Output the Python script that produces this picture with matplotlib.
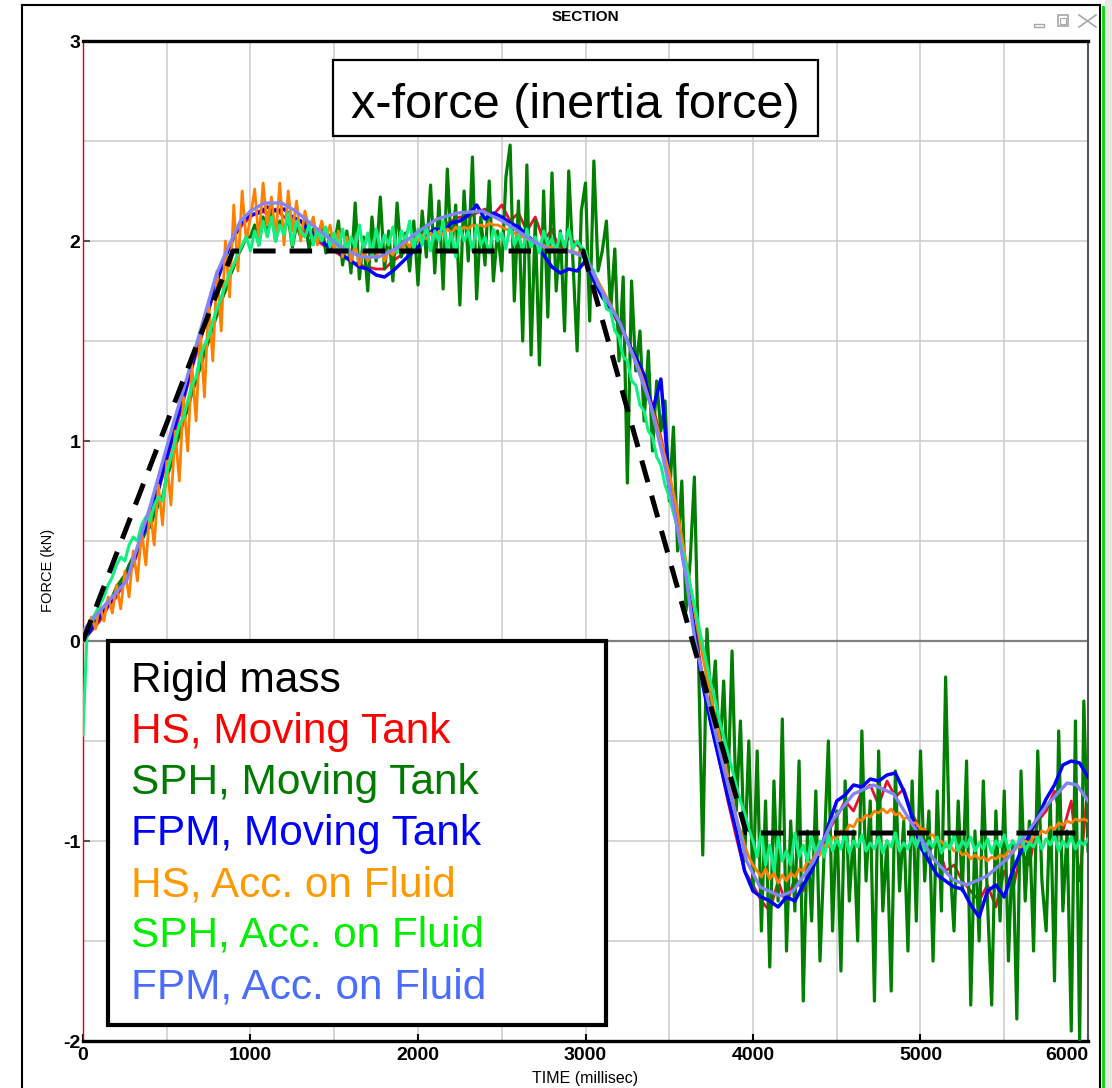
import numpy as np
import matplotlib
matplotlib.use("Agg")
import matplotlib.pyplot as plt
from matplotlib.patches import Rectangle
from matplotlib.lines import Line2D
from matplotlib.ticker import MultipleLocator

plt.rcParams['font.family'] = ['Liberation Sans', 'DejaVu Sans']

W, H = 1112, 1088

# rigid mass: trapezoid corners (ms, kN)
rigid_t = [0, 895, 2985, 3960, 6000]
rigid_f = [0.0, 1.95, 1.95, -0.96, -0.96]

# FPM, Acc. on Fluid (smooth curve)
fpm_acc_t = [0, 100, 260, 400, 540, 615, 700, 795, 857, 940, 1000, 1083, 1186,
             1269, 1413, 1537, 1660, 1763, 1866, 1990, 2114, 2237, 2382, 2505,
             2650, 2773, 2897, 3000, 3090, 3206, 3296, 3385, 3460, 3530, 3600,
             3654, 3723, 3821, 3902, 3962, 4042, 4161, 4240, 4360, 4480, 4600,
             4720, 4840, 4958, 5078, 5197, 5277, 5397, 5516, 5636, 5755, 5875,
             5934, 6000]
fpm_acc_f = [0.05, 0.15, 0.30, 0.67, 1.09, 1.30, 1.55, 1.83, 1.95, 2.10, 2.15,
             2.19, 2.19, 2.15, 2.05, 1.97, 1.92, 1.92, 1.96, 2.04, 2.11, 2.14,
             2.15, 2.10, 2.02, 1.96, 1.95, 1.92, 1.76, 1.59, 1.40, 1.19, 0.93,
             0.65, 0.32, 0.0, -0.27, -0.62, -0.89, -1.10, -1.23, -1.275, -1.25,
             -1.105, -0.89, -0.765, -0.72, -0.765, -0.925, -1.09, -1.195, -1.22,
             -1.175, -1.09, -0.96, -0.82, -0.71, -0.72, -0.80]

# HS, Moving Tank -- one value every 50 ms
hs_tank_f = [
    0.00, 0.05, 0.10, 0.17, 0.22, 0.30, 0.38, 0.50, 0.60, 0.75,
    0.90, 1.05, 1.20, 1.36, 1.50, 1.65, 1.80, 1.92, 2.02, 2.08,
    2.12, 2.15, 2.14, 2.16, 2.12, 2.10, 2.06, 2.03, 2.00, 1.97,
    1.95, 1.92, 1.90, 1.88, 1.87, 1.86, 1.86, 1.90, 1.93, 1.97,
    2.00, 2.04, 2.06, 2.08, 2.10, 2.12, 2.12, 2.14, 2.16, 2.13,
    2.18, 2.10, 2.14, 2.05, 2.12, 2.00, 2.06, 1.94, 2.02, 1.98,
    1.95, 1.82, 1.74, 1.66, 1.58, 1.50, 1.40, 1.30, 1.18, 1.02,
    0.82, 0.58, 0.36, 0.08, -0.18, -0.42, -0.60, -0.80, -0.98, -1.15,
    -1.22, -1.30, -1.35, -1.20, -1.32, -1.18, -1.25, -1.10, -1.05, -0.95,
    -0.88, -0.80, -0.85, -0.75, -0.72, -0.82, -0.70, -0.78, -0.74, -0.86,
    -0.95, -1.05, -1.00, -1.15, -1.12, -1.20, -1.25, -1.30, -1.22, -1.33,
    -1.15, -1.25, -1.05, -1.12, -0.90, -0.85, -0.75, -0.95, -0.80, -1.20,
    -0.70]

# FPM, Moving Tank -- one value every 50 ms
fpm_tank_f = [
    0.00, 0.06, 0.12, 0.18, 0.24, 0.30, 0.40, 0.52, 0.62, 0.76,
    0.92, 1.08, 1.22, 1.38, 1.52, 1.66, 1.80, 1.92, 2.02, 2.10,
    2.13, 2.14, 2.17, 2.15, 2.16, 2.12, 2.10, 2.05, 2.02, 1.98,
    1.96, 1.93, 1.90, 1.87, 1.86, 1.83, 1.82, 1.85, 1.89, 1.93,
    1.97, 2.02, 2.06, 2.05, 2.09, 2.10, 2.13, 2.18, 2.11, 2.14,
    2.12, 2.09, 2.07, 2.03, 1.99, 1.93, 1.87, 1.84, 1.86, 1.85,
    1.90, 1.80, 1.72, 1.66, 1.60, 1.50, 1.42, 1.33, 1.15, 1.31,
    0.80, 0.58, 0.33, 0.05, -0.22, -0.42, -0.60, -0.78, -0.95, -1.15,
    -1.25, -1.28, -1.30, -1.33, -1.28, -1.30, -1.22, -1.15, -1.05, -0.92,
    -0.80, -0.77, -0.72, -0.73, -0.69, -0.70, -0.67, -0.66, -0.75, -0.88,
    -1.03, -1.10, -1.17, -1.20, -1.23, -1.24, -1.32, -1.38, -1.25, -1.22,
    -1.28, -1.15, -1.05, -0.97, -0.88, -0.79, -0.72, -0.62, -0.60, -0.61,
    -0.68]

# SPH, Moving Tank -- one value every 25 ms
sph_tank_f = [
    0.00, 0.03, 0.06, 0.10, 0.12, 0.17, 0.20, 0.22, 0.27, 0.30, 0.33, 0.38, 0.42, 0.45, 0.50, 0.55, 0.57, 0.63, 0.68, 0.72,
    0.82, 0.88, 0.97, 1.03, 1.10, 1.16, 1.24, 1.30, 1.37, 1.44, 1.50, 1.57, 1.63, 1.70, 1.75, 1.82, 1.87, 1.93, 1.97, 2.02,
    2.02, 2.08, 1.98, 2.12, 2.03, 2.15, 2.00, 2.10, 2.05, 2.12, 1.97, 2.08, 2.02, 2.10, 1.96, 2.06, 2.00, 2.09, 1.94, 2.03,
    1.98, 2.10, 1.88, 2.05, 1.84, 2.19, 1.81, 2.02, 1.75, 2.12, 1.90, 2.22, 1.86, 2.05, 1.80, 2.19, 1.92, 2.04, 1.85, 2.10,
    1.78, 2.15, 1.92, 2.28, 1.84, 2.20, 1.76, 2.36, 1.95, 2.18, 1.68, 2.25, 1.90, 2.42, 1.71, 2.12, 1.88, 2.30, 1.80, 2.05,
    1.85, 2.32, 2.48, 1.70, 2.20, 1.50, 2.38, 1.43, 2.10, 1.38, 2.25, 1.62, 2.34, 1.75, 2.05, 1.55, 2.35, 1.90, 1.45, 2.15,
    2.29, 1.60, 2.40, 1.85, 1.95, 2.10, 1.65, 1.96, 1.40, 1.82, 0.79, 1.80, 1.35, 1.55, 1.10, 1.45, 0.95, 1.30, 1.05, 1.20,
    0.70, 1.07, 0.45, 0.80, 0.15, 0.40, 0.82, -0.10, -1.07, 0.06, -0.35, -0.10, -0.60, -0.20, -0.75, -0.05, -0.85, -0.40, -1.10, -0.50,
    -1.25, -0.55, -1.45, -0.80, -1.63, -0.70, -1.30, -0.39, -1.55, -0.90, -1.35, -0.60, -1.80, -0.95, -1.40, -0.75, -1.60, -1.05, -0.50, -1.45,
    -0.85, -1.65, -0.70, -1.30, -0.95, -1.50, -0.45, -1.20, -0.80, -1.80, -0.55, -1.35, -1.00, -1.75, -0.65, -1.25, -0.90, -1.55, -0.70, -1.40,
    -0.55, -1.20, -0.85, -1.60, -0.75, -1.35, -0.18, -1.10, -1.45, -0.80, -1.25, -0.60, -1.82, -0.95, -1.50, -0.70, -1.30, -1.82, -0.85, -1.40,
    -0.75, -1.60, -1.00, -1.89, -0.65, -1.30, -0.90, -1.55, -0.55, -1.20, -1.45, -0.80, -1.70, -0.45, -1.35, -0.95, -1.95, -0.40, -2.00, -0.30,
    -1.05]

# HS, Acc. on Fluid -- one value every 25 ms
hs_acc_f = [
    0.00, 0.05, 0.12, 0.06, 0.18, 0.10, 0.22, 0.14, 0.28, 0.16, 0.35, 0.22, 0.45, 0.30, 0.55, 0.38, 0.66, 0.48, 0.78, 0.58,
    0.90, 0.68, 1.05, 0.80, 1.22, 0.95, 1.38, 1.10, 1.55, 1.22, 1.70, 1.40, 1.85, 1.55, 2.00, 1.72, 2.18, 1.85, 2.25, 2.00,
    2.12, 2.26, 2.00, 2.29, 2.08, 2.22, 2.02, 2.29, 1.98, 2.25, 2.05, 2.20, 2.00, 2.15, 2.06, 2.12, 1.98, 2.10, 2.02, 2.08,
    1.95, 2.05, 1.92, 2.02, 1.90, 1.98, 1.88, 1.95, 1.90, 1.93, 1.92, 1.97, 1.90, 1.95, 1.93, 1.98, 1.95, 2.00, 1.97, 2.01,
    2.00, 2.03, 2.01, 2.04, 2.02, 2.05, 2.03, 2.06, 2.04, 2.07, 2.05, 2.07, 2.06, 2.08, 2.07, 2.08, 2.07, 2.09, 2.08, 2.08,
    2.07, 2.06, 2.05, 2.04, 2.03, 2.02, 2.01, 2.00, 1.99, 1.98, 1.98, 1.97, 1.97, 1.96, 1.96, 1.95, 1.95, 1.95, 1.94, 1.94,
    1.92, 1.88, 1.84, 1.80, 1.76, 1.72, 1.68, 1.64, 1.60, 1.55, 1.50, 1.45, 1.40, 1.35, 1.29, 1.22, 1.15, 1.08, 1.00, 0.92,
    0.84, 0.74, 0.64, 0.52, 0.40, 0.28, 0.16, 0.04, -0.08, -0.18, -0.28, -0.38, -0.48, -0.58, -0.68, -0.78, -0.88, -0.95, -1.02, -1.08,
    -1.12, -1.15, -1.18, -1.14, -1.19, -1.16, -1.21, -1.17, -1.20, -1.16, -1.18, -1.14, -1.15, -1.10, -1.11, -1.06, -1.07, -1.02, -1.03, -0.98,
    -0.99, -0.95, -0.96, -0.92, -0.93, -0.89, -0.90, -0.87, -0.88, -0.85, -0.86, -0.84, -0.86, -0.84, -0.87, -0.86, -0.89, -0.88, -0.91, -0.91,
    -0.94, -0.94, -0.97, -0.97, -1.00, -1.00, -1.03, -1.02, -1.05, -1.04, -1.07, -1.06, -1.09, -1.07, -1.09, -1.08, -1.10, -1.08, -1.09, -1.07,
    -1.08, -1.05, -1.06, -1.03, -1.03, -1.00, -1.01, -0.98, -0.98, -0.95, -0.96, -0.93, -0.94, -0.91, -0.92, -0.90, -0.91, -0.89, -0.90, -0.89,
    -0.90]

# SPH, Acc. on Fluid -- one value every 25 ms
sph_acc_f = [
    -0.47, 0.06, 0.10, 0.14, 0.18, 0.22, 0.28, 0.32, 0.38, 0.42, 0.40, 0.48, 0.52, 0.50, 0.58, 0.62, 0.60, 0.68, 0.72, 0.70,
    0.84, 0.92, 1.00, 1.08, 1.12, 1.20, 1.28, 1.32, 1.42, 1.48, 1.52, 1.60, 1.66, 1.72, 1.78, 1.84, 1.88, 1.94, 1.98, 2.02,
    1.95, 2.05, 1.98, 2.10, 2.02, 2.12, 2.00, 2.08, 2.03, 2.14, 1.98, 2.10, 2.05, 2.02, 2.08, 1.98, 2.06, 2.00, 2.07, 1.97,
    2.04, 1.96, 2.06, 1.94, 2.02, 1.97, 2.08, 1.95, 2.04, 1.93, 2.06, 1.96, 2.03, 1.98, 2.07, 1.94, 2.05, 2.00, 2.10, 1.96,
    2.06, 1.98, 2.08, 1.95, 2.05, 2.00, 2.10, 1.96, 2.04, 1.92, 2.07, 2.00, 2.05, 1.95, 2.08, 1.98, 2.02, 1.94, 2.06, 2.00,
    2.04, 1.96, 2.08, 1.98, 2.03, 1.95, 2.06, 1.97, 2.02, 1.94, 2.05, 1.98, 2.01, 1.95, 2.04, 1.97, 2.06, 1.96, 2.00, 1.97,
    1.95, 1.88, 1.85, 1.78, 1.75, 1.66, 1.65, 1.55, 1.52, 1.42, 1.40, 1.30, 1.28, 1.18, 1.15, 1.05, 1.02, 0.92, 0.88, 0.78,
    0.72, 0.64, 0.56, 0.47, 0.38, 0.28, 0.18, 0.08, -0.02, -0.12, -0.22, -0.30, -0.40, -0.48, -0.56, -0.64, -0.72, -0.80, -0.86, -0.94,
    -1.00, -1.08, -0.95, -1.12, -1.02, -1.15, -0.98, -1.10, -1.05, -1.12, -0.96, -1.08, -1.02, -1.10, -0.98, -1.06, -1.00, -1.08, -0.97, -1.05,
    -0.99, -1.04, -0.96, -1.06, -1.00, -1.03, -0.97, -1.05, -1.01, -1.04, -0.98, -1.06, -1.00, -1.03, -0.96, -1.05, -1.01, -1.04, -0.98, -1.03,
    -0.97, -1.05, -1.00, -1.03, -0.98, -1.06, -1.01, -1.04, -0.97, -1.05, -1.00, -1.03, -0.98, -1.05, -1.01, -1.04, -0.99, -1.06, -1.00, -1.03,
    -0.97, -1.04, -1.00, -1.03, -0.96, -1.05, -1.01, -1.03, -0.98, -1.04, -0.99, -1.02, -0.97, -1.05, -1.00, -1.03, -0.98, -1.04, -1.00, -1.02,
    -0.99]

legend_labels = ["Rigid mass", "HS, Moving Tank", "SPH, Moving Tank", "FPM, Moving Tank",
                 "HS, Acc. on Fluid", "SPH, Acc. on Fluid", "FPM, Acc. on Fluid"]
legend_colors = ["#000000", "#ff0000", "#007a00", "#0000ff", "#ff9900", "#00ee00", "#4a6cff"]

x_ticks = [0, 1000, 2000, 3000, 4000, 5000, 6000]
y_ticks = [-2, -1, 0, 1, 2, 3]


def fx(x):
    return x / W


def fy(y):
    return 1 - y / H


fig = plt.figure(figsize=(W / 100, H / 100), dpi=100)
fig.patch.set_facecolor("white")
ax = fig.add_axes([fx(83), fy(1041), (1088 - 83) / W, (1041 - 41) / H])

t50 = np.arange(len(hs_tank_f)) * 50
t25 = np.arange(len(sph_tank_f)) * 25

ax.plot(t50, hs_tank_f, color="#e8112d", lw=2.0, zorder=3)
ax.plot(t25, sph_tank_f, color="#007f00", lw=2.3, zorder=4)
ax.plot(t50, fpm_tank_f, color="#0000ff", lw=2.5, zorder=5)
ax.plot(t25, hs_acc_f, color="#ff8000", lw=2.0, zorder=6)
ax.plot(t25, sph_acc_f, color="#10f080", lw=2.2, zorder=7)
ax.plot(fpm_acc_t, fpm_acc_f, color="#8484f4", lw=2.4, zorder=8)
ax.plot(rigid_t, rigid_f, color="black", lw=3.6, dashes=(4.5, 2.8), zorder=9)

ax.set_xlim(0, 6000)
ax.set_ylim(-2, 3)
ax.xaxis.set_minor_locator(MultipleLocator(500))
ax.yaxis.set_minor_locator(MultipleLocator(0.5))
ax.set_xticks(x_ticks)
ax.set_yticks(y_ticks)
ax.set_xticklabels([str(v) for v in x_ticks])
ax.set_yticklabels([str(v) for v in y_ticks])
ax.grid(which="both", color="#cccccc", lw=1.1, zorder=0)
ax.axhline(0, color="#808080", lw=1.6, zorder=1)
ax.set_axisbelow(True)

ax.tick_params(axis="x", which="major", direction="in", length=5, width=1.5,
               color="black", pad=4, labelsize=14)
ax.tick_params(axis="y", which="major", direction="in", length=5, width=1.5,
               color="#555555", pad=2, labelsize=14)
ax.tick_params(which="minor", length=0)
for lab in ax.get_xticklabels() + ax.get_yticklabels():
    lab.set_fontweight("bold")
ax.get_xticklabels()[-1].set_horizontalalignment("right")

ax.spines["top"].set_linewidth(2.4)
ax.spines["bottom"].set_linewidth(2.4)
ax.spines["right"].set_color("#555555")
ax.spines["right"].set_linewidth(1.5)
ax.spines["left"].set_color("#e00000")
ax.spines["left"].set_linewidth(1.0)

# axis captions
fig.text(fx(48), fy(570), "FORCE (kN)", rotation=90, ha="center", va="center", fontsize=10.5)
fig.text(fx(585), fy(1078), "TIME (millisec)", ha="center", va="center", fontsize=11.5)
fig.text(fx(585), fy(17), "SECTION", ha="center", va="center", fontsize=11, fontweight="bold")

# title box
fig.add_artist(Rectangle((fx(333), fy(136)), (818 - 333) / W, (136 - 60) / H,
                         transform=fig.transFigure, facecolor="white",
                         edgecolor="black", lw=1.6, zorder=10))
fig.text(fx(575.5), fy(118), "x-force (inertia force)", ha="center", va="baseline",
         fontsize=35, zorder=11)

# legend box
fig.add_artist(Rectangle((fx(108), fy(1025)), (606 - 108) / W, (1025 - 641) / H,
                         transform=fig.transFigure, facecolor="white",
                         edgecolor="black", lw=3.0, zorder=10))
for i, (lab, col) in enumerate(zip(legend_labels, legend_colors)):
    fig.text(fx(131), fy(692 + 51 * i), lab, color=col, ha="left", va="baseline",
             fontsize=30.5, zorder=11)

# window frame
frame = [((22, 22), (5, 1088), "black", 1.5),
         ((22, 1100), (5, 5), "black", 1.5),
         ((1100, 1100), (5, 1088), "black", 1.5),
         ((1103, 1103), (7, 1088), "#00dd00", 2.0)]
for xs, ys, col, lw in frame:
    fig.add_artist(Line2D([fx(xs[0]), fx(xs[1])], [fy(ys[0]), fy(ys[1])],
                          transform=fig.transFigure, color=col, lw=lw))
fig.add_artist(Rectangle((fx(1105), 0), 7 / W, 1, transform=fig.transFigure,
                         facecolor="#e8e8e8", edgecolor="none"))

# window buttons
btn = "#a8a8a8"
fig.add_artist(Rectangle((fx(1034), fy(27)), 10 / W, 3 / H, transform=fig.transFigure,
                         facecolor="none", edgecolor=btn, lw=1.0))
fig.add_artist(Rectangle((fx(1058), fy(26)), 10 / W, 11 / H, transform=fig.transFigure,
                         facecolor="none", edgecolor=btn, lw=1.2))
fig.add_artist(Rectangle((fx(1060), fy(24)), 6 / W, 6 / H, transform=fig.transFigure,
                         facecolor="none", edgecolor=btn, lw=0.8))
fig.add_artist(Line2D([fx(1079), fx(1096)], [fy(15), fy(27)], transform=fig.transFigure,
                      color=btn, lw=1.2))
fig.add_artist(Line2D([fx(1079), fx(1096)], [fy(27), fy(15)], transform=fig.transFigure,
                      color=btn, lw=1.2))

fig.savefig("out.png", dpi=100)
